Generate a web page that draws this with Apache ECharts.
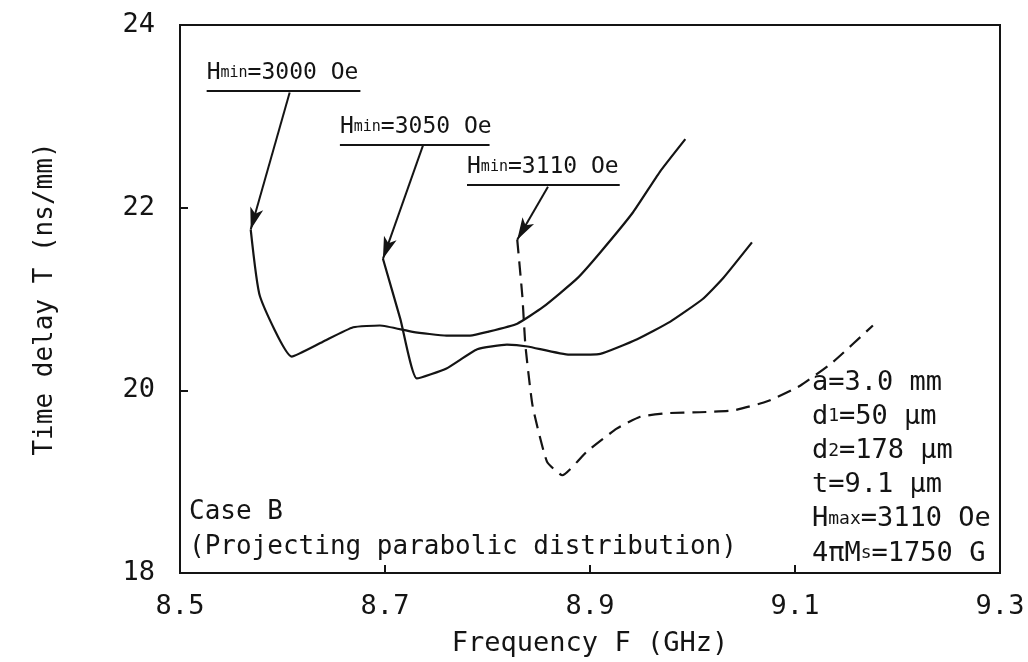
<!DOCTYPE html>
<html><head><meta charset="utf-8">
<script src="https://cdn.jsdelivr.net/npm/echarts@6/dist/echarts.min.js"></script>
<style>html,body{margin:0;padding:0;background:#fff}#c{width:1028px;height:662px}</style>
</head><body><div id="c"></div>
<script>
// ---- data ----
const X0 = 8.5; // axis origin (GHz)
const xTickLabels = ['8.5', '8.7', '8.9', '9.1', '9.3'];
const yTickLabels = ['18', '20', '22', '24'];

const curveH3000 = [
  [8.569, 21.76], [8.578, 21.03], [8.609, 20.37], [8.639, 20.53],
  [8.669, 20.69], [8.695, 20.71], [8.727, 20.64], [8.760, 20.60], [8.783, 20.60],
  [8.800, 20.64], [8.829, 20.73], [8.854, 20.91], [8.887, 21.22], [8.910, 21.51],
  [8.942, 21.95], [8.968, 22.39], [8.993, 22.75]
];
const curveH3050 = [
  [8.698, 21.44], [8.715, 20.78], [8.731, 20.13], [8.760, 20.24], [8.790, 20.45],
  [8.819, 20.50], [8.839, 20.48], [8.880, 20.39], [8.910, 20.40], [8.946, 20.56],
  [8.978, 20.75], [9.010, 21.00], [9.030, 21.23], [9.058, 21.62]
];
const curveH3110 = [
  [8.829, 21.65], [8.834, 21.03], [8.837, 20.49], [8.844, 19.83], [8.858, 19.22],
  [8.873, 19.07], [8.897, 19.33], [8.926, 19.58], [8.949, 19.71], [8.975, 19.75],
  [9.007, 19.76], [9.040, 19.78], [9.073, 19.88], [9.105, 20.05], [9.137, 20.31],
  [9.176, 20.71]
];
const hminValues = ['3000', '3050', '3110'];
// annotation anchors in data coordinates
const underlineStart = [[8.526, 23.28], [8.656, 22.69], [8.780, 22.25]];
const underlineEnd = [[8.676, 23.28], [8.802, 22.69], [8.929, 22.25]];
const arrowTail = [[8.607, 23.26], [8.737, 22.68], [8.859, 22.23]];
const paramLines = [
  'a=3.0 mm',
  'd{s|1}=50 μm',
  'd{s|2}=178 μm',
  't=9.1 μm',
  'H{s|max}=3110 Oe',
  '4πM{s|s}=1750 G'
];
const caseLines = ['Case B', '(Projecting parabolic distribution)'];
const xName = 'Frequency F (GHz)';
const yName = 'Time delay T (ns/mm)';

// ---- chart ----
const FONT = '"DejaVu Sans Mono", "Liberation Mono", monospace';
const INK = '#141414';
const chart = echarts.init(document.getElementById('c'), null, { renderer: 'canvas' });
const sh = p => [p[0] - X0, p[1]];
const curves = [curveH3000, curveH3050, curveH3110];

const series = curves.map((c, i) => ({
  type: 'line',
  name: 'Hmin=' + hminValues[i] + ' Oe',
  data: c.map(sh),
  showSymbol: false,
  symbol: 'none',
  smooth: 0.15,
  lineStyle: { color: INK, width: 2.2, type: i === 2 ? [14, 8] : 'solid' },
  silent: true,
  animation: false,
  markLine: {
    silent: true,
    animation: false,
    symbol: ['none', 'none'],
    label: { show: false },
    lineStyle: { color: INK, width: 2, type: 'solid' },
    emphasis: { disabled: true },
    data: [
      [{ coord: sh(arrowTail[i]), symbol: 'none' }, { coord: sh(c[0]), symbol: 'arrow', symbolSize: [10, 22] }],
      [{ coord: sh(underlineStart[i]), symbol: 'none' }, { coord: sh(underlineEnd[i]), symbol: 'none' }]
    ]
  }
}));

chart.setOption({
  backgroundColor: '#ffffff',
  animation: false,
  grid: { left: 180, right: 28, top: 25, bottom: 87, show: true, borderColor: INK, borderWidth: 2, backgroundColor: 'transparent' },
  xAxis: {
    type: 'value', min: 0, max: 0.8, interval: 0.2,
    name: xName, nameLocation: 'middle', nameGap: 57,
    nameTextStyle: { fontFamily: FONT, fontSize: 27, color: INK },
    axisLine: { show: true, lineStyle: { color: INK, width: 2 } },
    axisTick: { show: true, inside: true, length: 8, lineStyle: { color: INK, width: 2 } },
    splitLine: { show: false },
    axisLabel: { margin: 20, fontFamily: FONT, fontSize: 27, color: INK,
      formatter: v => xTickLabels[Math.round(v / 0.2)] }
  },
  yAxis: {
    type: 'value', min: 18, max: 24, interval: 2,
    name: yName, nameLocation: 'middle', nameGap: 122, nameRotate: 90,
    nameTextStyle: { fontFamily: FONT, fontSize: 26, color: INK },
    axisLine: { show: true, lineStyle: { color: INK, width: 2 } },
    axisTick: { show: true, inside: true, length: 8, lineStyle: { color: INK, width: 2 } },
    splitLine: { show: false },
    axisLabel: { margin: 25, fontFamily: FONT, fontSize: 27, color: INK,
      formatter: v => yTickLabels[Math.round((v - 18) / 2)] }
  },
  series: series
});

// text annotations
const graphics = [];
underlineStart.forEach((p, i) => {
  const px = chart.convertToPixel({ gridIndex: 0 }, sh(p));
  graphics.push({
    type: 'text', left: px[0], top: px[1] - 29, silent: true,
    style: {
      text: '{b|H}{m|min}{b|=' + hminValues[i] + ' Oe}',
      rich: {
        b: { fontFamily: FONT, fontSize: 23, fill: INK, color: INK },
        m: { fontFamily: FONT, fontSize: 15, fill: INK, color: INK }
      }
    }
  });
});
paramLines.forEach((t, i) => {
  graphics.push({
    type: 'text', left: 812, top: 369 + i * 34.2, silent: true,
    style: {
      text: t.replace(/^([^{]*)/, '{b|$1}').replace(/\}([^{]+)$/, '}{b|$1}').replace(/\}([^{}]+)\{/g, '}{b|$1}{'),
      rich: {
        b: { fontFamily: FONT, fontSize: 27, fill: INK, color: INK },
        s: { fontFamily: FONT, fontSize: 18, fill: INK, color: INK }
      }
    }
  });
});
caseLines.forEach((t, i) => {
  graphics.push({
    type: 'text', left: 189, top: 499 + i * 35, silent: true,
    style: { text: t, fontFamily: FONT, fontSize: 26, fill: INK }
  });
});
chart.setOption({ graphic: graphics });
</script>
</body></html>
